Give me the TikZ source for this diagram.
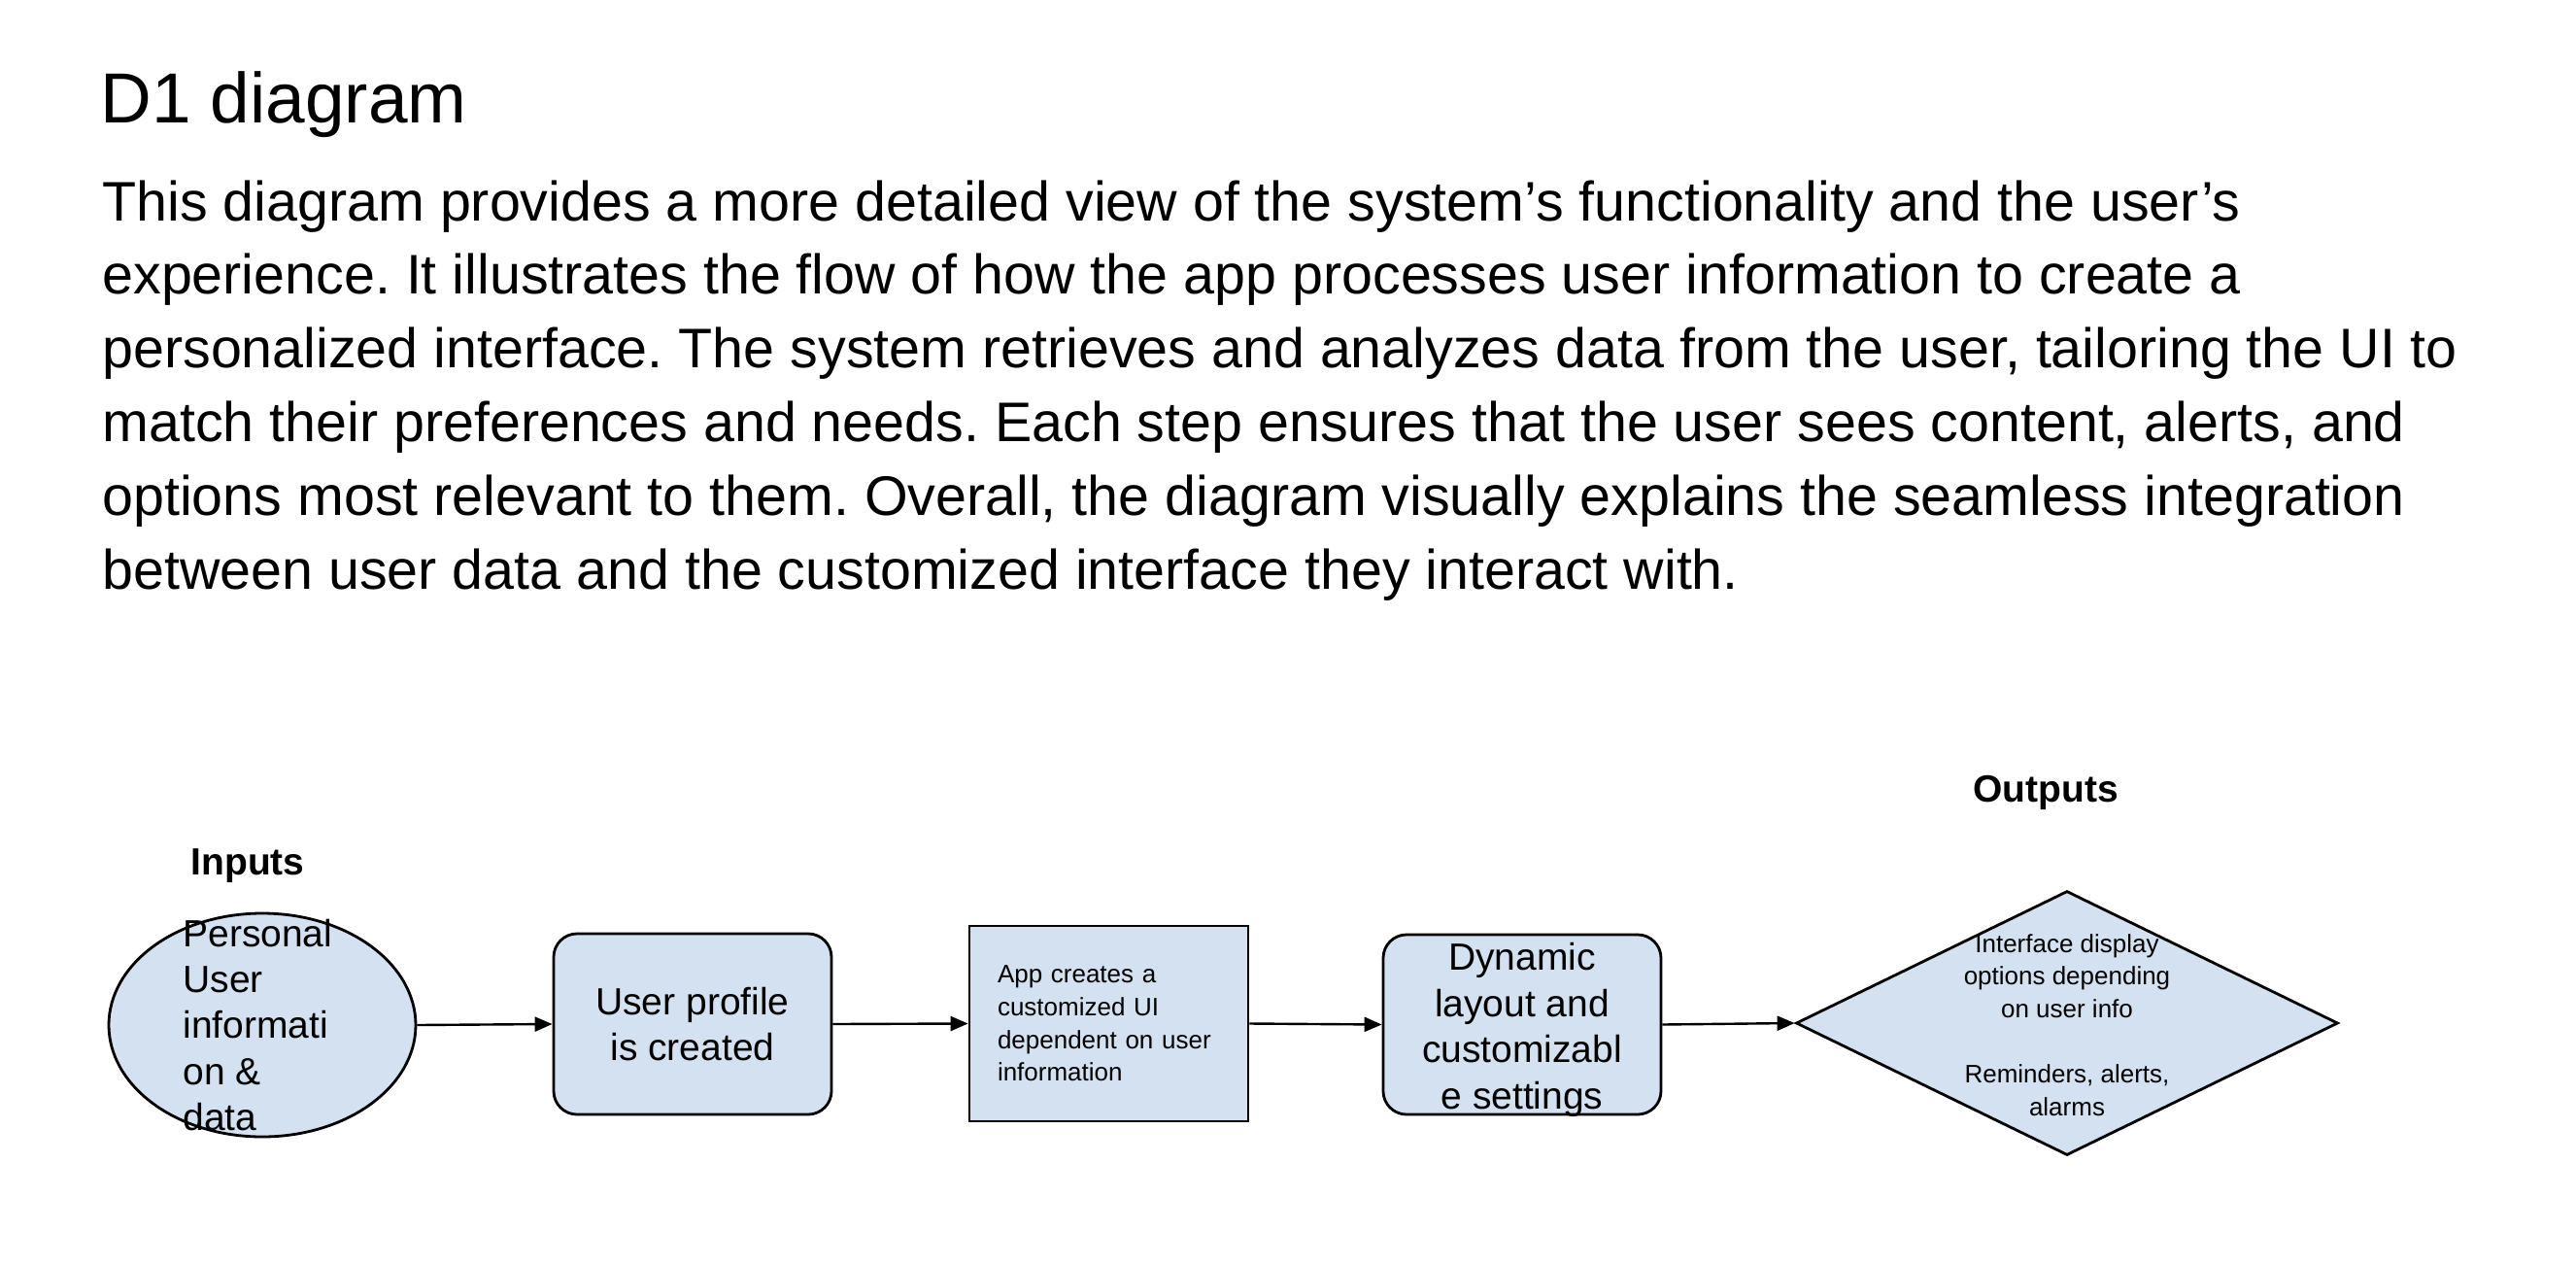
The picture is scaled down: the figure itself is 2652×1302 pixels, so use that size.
\documentclass[tikz,border=0pt]{standalone}
\usepackage{fontspec}
\setmainfont{Liberation Sans}
\frenchspacing
\usetikzlibrary{shapes.geometric,arrows.meta}
\definecolor{boxfill}{HTML}{D4E1F1}
\begin{document}
\begin{tikzpicture}[x=0.5pt,y=-0.5pt,
  shapebox/.style={draw=black,fill=boxfill,line width=1.4pt,inner sep=0pt},
  mainfont/.style={font=\fontsize{19.5pt}{23.7pt}\selectfont},
  smallfont/.style={font=\fontsize{13pt}{16.8pt}\selectfont},
  headfont/.style={font=\fontsize{19.5pt}{23.7pt}\selectfont\bfseries},
  arr/.style={line width=1.2pt,-{Triangle[length=9pt,width=7.5pt]}}]
\path[use as bounding box,fill=white] (0,0) rectangle (2652,1302);

% title and paragraph
\node[anchor=base west,inner sep=0pt,font=\fontsize{36.5pt}{44pt}\selectfont] (title) at (103,126) {D1 diagram};
\node[anchor=base west,inner sep=0pt,font=\fontsize{28.7pt}{37.9pt}\selectfont] (para) at (105,227) {%
\begin{tabular}[t]{@{}l@{}}
This diagram provides a more detailed view of the system’s functionality and the user’s\\
experience. It illustrates the flow of how the app processes user information to create a\\
personalized interface. The system retrieves and analyzes data from the user, tailoring the UI to\\
match their preferences and needs. Each step ensures that the user sees content, alerts, and\\
options most relevant to them. Overall, the diagram visually explains the seamless integration\\
between user data and the customized interface they interact with.
\end{tabular}};

% headings
\node[headfont,anchor=base,inner sep=0pt] (inputs) at (255,900) {Inputs};
\node[headfont,anchor=base,inner sep=0pt] (outputs) at (2106,825) {Outputs};

% shapes
\node[shapebox,ellipse,minimum width=158pt,minimum height=115pt] (ell) at (270,1055) {};
\node[mainfont,anchor=base west,inner sep=0pt] (elltext) at (188,974) {%
\begin{tabular}[t]{@{}l@{}}Personal\\User\\informati\\on \&\\data\end{tabular}};

\node[shapebox,mainfont,rectangle,rounded corners=12pt,minimum width=143pt,minimum height=93pt,align=center] (b2) at (713,1054) {User profile\\is created};

\node[shapebox,smallfont,rectangle,minimum width=143.5pt,minimum height=100.5pt,text width=114.5pt,align=left] (b3) at (1141.5,1053.5) {App creates a\\customized UI\\dependent on user\\information};

\node[shapebox,rectangle,rounded corners=12pt,minimum width=143pt,minimum height=92.5pt] (b4) at (1567,1054.5) {};
\node[mainfont,align=center,inner sep=0pt] (b4text) at (1567,1060) {Dynamic\\layout and\\customizabl\\e settings};

\node[shapebox,diamond,minimum width=279pt,minimum height=136pt] (dia) at (2128,1053) {};
\node[smallfont,align=center,inner sep=0pt] (diatext) at (2128,1055) {Interface display\\options depending\\on user info\\[16.8pt]Reminders, alerts,\\alarms};

% connectors
\draw[arr] (ell.east) -- (b2.west);
\draw[arr] (b2.east) -- (b3.west);
\draw[arr] (b3.east) -- (b4.west);
\draw[arr] (b4.east) -- (dia.west);
\end{tikzpicture}
\end{document}
